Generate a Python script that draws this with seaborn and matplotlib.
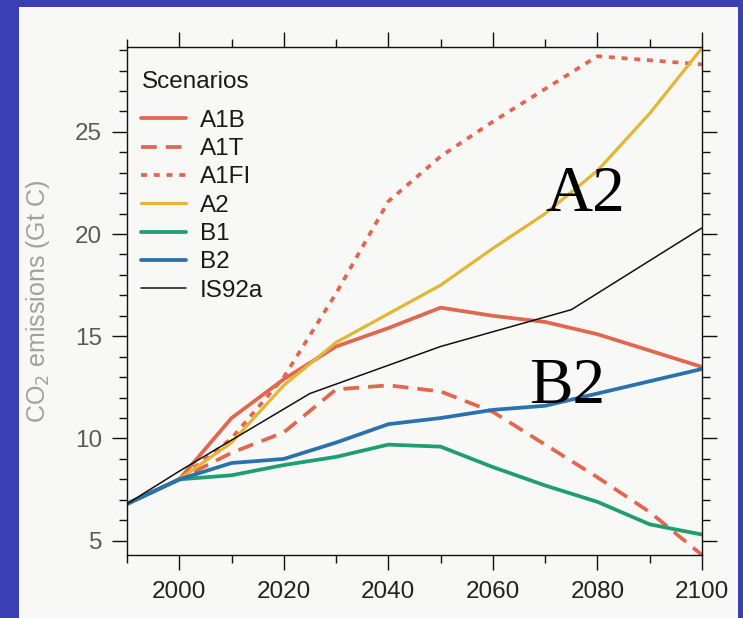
import matplotlib
matplotlib.use("Agg")
import matplotlib.pyplot as plt
import matplotlib.patches as mpatches
from matplotlib.ticker import MultipleLocator
import seaborn as sns
import pandas as pd

# ---- data ----
years = [1990, 2000, 2010, 2020, 2030, 2040, 2050, 2060, 2070, 2080, 2090, 2100]
a1b  = [6.8, 8.0, 11.0, 12.9, 14.5, 15.4, 16.4, 16.0, 15.7, 15.1, 14.3, 13.5]
a1t  = [6.8, 8.0, 9.3, 10.3, 12.4, 12.6, 12.3, 11.3, 9.7, 8.1, 6.4, 4.3]
a1fi = [6.8, 8.0, 10.0, 13.0, 17.1, 21.6, 23.8, 25.5, 27.1, 28.7, 28.5, 28.3]
a2   = [6.8, 8.0, 9.8, 12.6, 14.7, 16.1, 17.5, 19.3, 21.0, 23.1, 25.9, 29.1]
b1   = [6.8, 8.0, 8.2, 8.7, 9.1, 9.7, 9.6, 8.6, 7.7, 6.9, 5.8, 5.3]
b2   = [6.8, 8.0, 8.8, 9.0, 9.8, 10.7, 11.0, 11.4, 11.6, 12.2, 12.8, 13.4]
is92a_years = [1990, 2000, 2025, 2050, 2075, 2100]
is92a = [6.8, 8.4, 12.2, 14.5, 16.3, 20.3]

scenarios = ["A1B", "A1T", "A1FI", "A2", "B1", "B2", "IS92a"]
series = {"A1B": (years, a1b), "A1T": (years, a1t), "A1FI": (years, a1fi),
          "A2": (years, a2), "B1": (years, b1), "B2": (years, b2),
          "IS92a": (is92a_years, is92a)}

xticks = [2000, 2020, 2040, 2060, 2080, 2100]
yticks = [5, 10, 15, 20, 25]

rows = []
for s in scenarios:
    xs, ys = series[s]
    for x, y in zip(xs, ys):
        rows.append({"Year": x, "Emissions": y, "Scenario": s})
df = pd.DataFrame(rows)

# ---- styles ----
red = "#E2674F"
palette = {"A1B": red, "A1T": red, "A1FI": red, "A2": "#E3B636",
           "B1": "#1E9E72", "B2": "#2A72AE", "IS92a": "#111111"}
dashes = {"A1B": "", "A1T": (4.2, 2.4), "A1FI": (1.6, 1.8), "A2": "",
          "B1": "", "B2": "", "IS92a": ""}
sizes = {"A1B": 2.7, "A1T": 2.7, "A1FI": 2.7, "A2": 2.3,
         "B1": 2.7, "B2": 2.7, "IS92a": 1.1}

sns.set_theme(style="ticks")
plt.rcParams["font.family"] = ["Liberation Sans", "DejaVu Sans"]

fig = plt.figure(figsize=(7.43, 6.18), dpi=100)
fig.patch.set_facecolor("#3A40B4")
paper = mpatches.Rectangle((19 / 743, 0), (738 - 19) / 743, 1 - 7 / 618,
                           transform=fig.transFigure, facecolor="#F8F8F6",
                           edgecolor="none", zorder=-10)
fig.patches.append(paper)

ax = fig.add_axes([127 / 743, 1 - 555 / 618, (702 - 127) / 743, (555 - 47) / 618])
ax.set_facecolor("none")

sns.lineplot(data=df, x="Year", y="Emissions", hue="Scenario", style="Scenario",
             size="Scenario", hue_order=scenarios, style_order=scenarios,
             size_order=scenarios, palette=palette, dashes=dashes, sizes=sizes,
             ax=ax, legend=True)

ax.set_xlim(1990, 2100)
ax.set_ylim(4.3, 29.15)
ax.set_xticks(xticks)
ax.set_yticks(yticks)
ax.xaxis.set_minor_locator(MultipleLocator(10))
ax.yaxis.set_minor_locator(MultipleLocator(1))
ax.tick_params(which="both", direction="out", top=True, right=True,
               color="#111111", width=1.0)
ax.tick_params(which="major", length=11, labelsize=17.5)
ax.tick_params(which="minor", length=5.5)
ax.tick_params(axis="y", labelcolor="#5a5a5a", pad=7)
ax.tick_params(axis="x", labelcolor="#222222", pad=8)
for sp in ax.spines.values():
    sp.set_visible(True)
    sp.set_color("#111111")
    sp.set_linewidth(1.0)

ax.set_xlabel("")
ax.set_ylabel("CO$_2$ emissions (Gt C)", fontsize=18, color="#a0a0a0")
ax.yaxis.set_label_coords(-0.130, 0.5)

leg = ax.legend(loc="upper left", bbox_to_anchor=(0.001, 0.980), frameon=False,
                title="Scenarios", fontsize=17.5, title_fontsize=17.5,
                handlelength=1.85, handletextpad=0.54, labelspacing=0.26,
                borderpad=0.57, borderaxespad=0, alignment="left")
leg._legend_box.sep = 12
for t in leg.get_texts():
    t.set_color("#1a1a1a")
leg.get_title().set_color("#1a1a1a")

serif = ["Liberation Serif", "DejaVu Serif"]
ax.text(2077.6, 21.13, "A2", fontsize=47, family=serif,
        color="black", ha="center", va="baseline")
ax.text(2074.2, 11.74, "B2", fontsize=47, family=serif,
        color="black", ha="center", va="baseline")

fig.savefig("out.png", dpi=100, facecolor=fig.get_facecolor())
